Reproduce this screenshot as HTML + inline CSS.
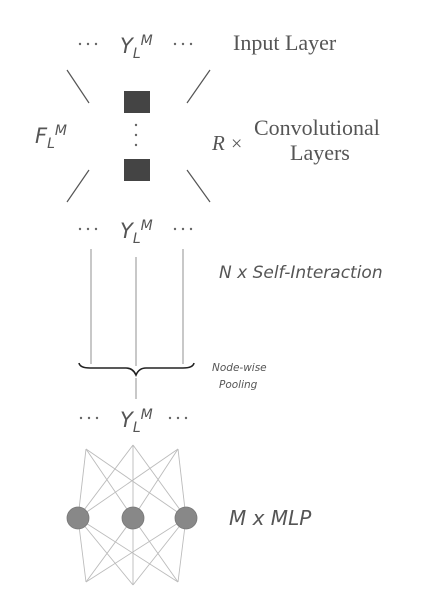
<!DOCTYPE html>
<html><head><meta charset="utf-8"><style>
html,body{margin:0;padding:0;background:#fff;}
svg text{fill:#555;}
.s{font-family:"DejaVu Sans","Liberation Sans",sans-serif;font-style:italic;}
.r{font-family:"Liberation Serif",serif;}
</style></head><body>
<svg width="430" height="586" viewBox="0 0 430 586" xmlns="http://www.w3.org/2000/svg">
<g fill="#666">
<circle cx="80" cy="44" r="1.2"/><circle cx="88" cy="44" r="1.2"/><circle cx="96" cy="44" r="1.2"/>
<circle cx="175" cy="44" r="1.2"/><circle cx="183" cy="44" r="1.2"/><circle cx="191" cy="44" r="1.2"/>
<circle cx="80" cy="229" r="1.2"/><circle cx="88" cy="229" r="1.2"/><circle cx="96" cy="229" r="1.2"/>
<circle cx="175" cy="229" r="1.2"/><circle cx="183" cy="229" r="1.2"/><circle cx="191" cy="229" r="1.2"/>
<circle cx="81" cy="418" r="1.2"/><circle cx="89" cy="418" r="1.2"/><circle cx="97" cy="418" r="1.2"/>
<circle cx="170" cy="418" r="1.2"/><circle cx="178" cy="418" r="1.2"/><circle cx="186" cy="418" r="1.2"/>
<circle cx="136" cy="125" r="1.2"/><circle cx="136" cy="135" r="1.2"/><circle cx="136" cy="145" r="1.2"/>
</g>
<g class="s" font-size="21">
<text x="120" y="53">Y<tspan font-size="14" dy="5">L</tspan><tspan font-size="14" dy="-13">M</tspan></text>
<text x="120" y="238">Y<tspan font-size="14" dy="5">L</tspan><tspan font-size="14" dy="-13">M</tspan></text>
<text x="120" y="427">Y<tspan font-size="14" dy="5">L</tspan><tspan font-size="14" dy="-13">M</tspan></text>
<text x="35" y="143">F<tspan font-size="14" dy="5">L</tspan><tspan font-size="14" dy="-13">M</tspan></text>
</g>
<text class="r" x="233" y="50" font-size="22">Input Layer</text>
<text class="r" x="212" y="150" font-size="21" font-style="italic">R</text>
<text class="r" x="231" y="150" font-size="20">×</text>
<text class="r" x="254" y="135" font-size="22">Convolutional</text>
<text class="r" x="290" y="160" font-size="22">Layers</text>
<text class="s" x="219" y="278" font-size="17">N x Self-Interaction</text>
<text class="s" x="212" y="371" font-size="10.5">Node-wise</text>
<text class="s" x="219" y="388" font-size="10.5">Pooling</text>
<text class="s" x="229" y="525" font-size="20">M x MLP</text>
<g stroke="#555" stroke-width="1.2">
<line x1="67" y1="70" x2="89" y2="103"/><line x1="210" y1="70" x2="187" y2="103"/>
<line x1="89" y1="170" x2="67" y2="202"/><line x1="187" y1="170" x2="210" y2="202"/>
</g>
<rect x="124" y="91" width="26" height="22" fill="#444"/>
<rect x="124" y="159" width="26" height="22" fill="#444"/>
<g stroke="#aaa" stroke-width="1.3">
<line x1="91" y1="249" x2="91" y2="364"/><line x1="136" y1="257" x2="136" y2="366"/><line x1="183" y1="249" x2="183" y2="364"/>
<line x1="136" y1="378" x2="136" y2="399"/>
</g>
<path d="M79 363 Q80 368 90 368 L126 368 Q133 368 136 375 Q139 368 146 368 L183 368 Q193 368 194 363" fill="none" stroke="#222" stroke-width="1.6"/>
<g stroke="#bbb" stroke-width="0.9">
<line x1="86" y1="449" x2="78" y2="518"/><line x1="86" y1="449" x2="133" y2="518"/><line x1="86" y1="449" x2="186" y2="518"/>
<line x1="133" y1="445" x2="78" y2="518"/><line x1="133" y1="445" x2="133" y2="518"/><line x1="133" y1="445" x2="186" y2="518"/>
<line x1="178" y1="449" x2="78" y2="518"/><line x1="178" y1="449" x2="133" y2="518"/><line x1="178" y1="449" x2="186" y2="518"/>
<line x1="86" y1="582" x2="78" y2="518"/><line x1="86" y1="582" x2="133" y2="518"/><line x1="86" y1="582" x2="186" y2="518"/>
<line x1="133" y1="585" x2="78" y2="518"/><line x1="133" y1="585" x2="133" y2="518"/><line x1="133" y1="585" x2="186" y2="518"/>
<line x1="178" y1="582" x2="78" y2="518"/><line x1="178" y1="582" x2="133" y2="518"/><line x1="178" y1="582" x2="186" y2="518"/>
</g>
<g fill="#888" stroke="#777" stroke-width="0.8">
<circle cx="78" cy="518" r="11"/><circle cx="133" cy="518" r="11"/><circle cx="186" cy="518" r="11"/>
</g>
</svg>
</body></html>
